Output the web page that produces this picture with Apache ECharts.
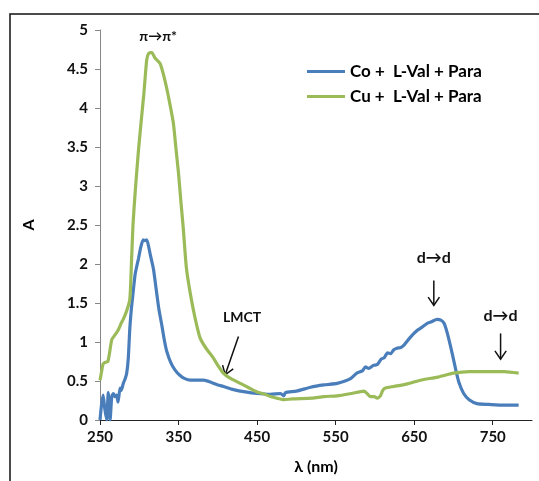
<!DOCTYPE html>
<html>
<head>
<meta charset="utf-8">
<script src="https://cdn.jsdelivr.net/npm/echarts@6/dist/echarts.min.js"></script>
<style>
  html, body { margin: 0; padding: 0; background: #fff; }
  #chart { width: 539px; height: 481px; }
</style>
</head>
<body>
<div id="chart"></div>
<script>
// Co + L-Val + Para
var coWavelength = [250, 252, 254, 256, 258.5, 260.5, 262.8, 265, 267, 269, 271, 273, 275.5, 277, 279.7, 282, 284, 286, 288, 290,
  292, 294.6, 297, 299, 302, 305, 307, 309.5, 312, 314, 318, 322, 325, 328.6, 332, 335, 340, 345.6, 352, 358,
  365, 371, 382, 392, 400, 407, 420, 435, 450, 467, 480, 484, 486, 500, 518, 535, 552, 562, 569, 577,
  584, 588, 592, 598, 603, 608, 612, 616, 620, 624, 628, 633, 637, 645, 654, 660, 666.6, 672, 679, 684,
  688, 692, 696.4, 700, 703, 707, 713, 720, 730, 745, 764, 783];
var coAbsorbance = [0.0, 0.2, 0.32, 0.15, 0.0, 0.35, 0.0, 0.3, 0.34, 0.3, 0.32, 0.23, 0.41, 0.38, 0.47, 0.53, 0.6, 0.79, 1.18, 1.43,
  1.62, 1.86, 1.98, 2.07, 2.22, 2.31, 2.30, 2.31, 2.22, 2.12, 1.94, 1.64, 1.42, 1.22, 1.02, 0.88, 0.74, 0.64, 0.57, 0.53,
  0.51, 0.51, 0.51, 0.48, 0.45, 0.43, 0.39, 0.36, 0.34, 0.33, 0.34, 0.31, 0.35, 0.37, 0.42, 0.45, 0.47, 0.50, 0.53, 0.60,
  0.63, 0.68, 0.66, 0.70, 0.71, 0.78, 0.80, 0.86, 0.85, 0.90, 0.92, 0.93, 0.96, 1.06, 1.15, 1.19, 1.24, 1.26, 1.29, 1.28,
  1.24, 1.12, 0.94, 0.78, 0.64, 0.48, 0.34, 0.26, 0.21, 0.20, 0.19, 0.19];

// Cu + L-Val + Para
var cuWavelength = [250, 252, 254, 257, 260, 262, 265, 269, 273, 277, 280, 284, 288, 290, 292, 295, 299, 303, 306, 309.5,
  312, 316, 320, 326.5, 331, 335, 339, 343.5, 347, 350, 353, 356, 360, 365, 371, 377.5, 385, 394, 400, 407,
  415, 428.6, 440, 450, 460, 467, 475, 484, 495, 520, 535, 552, 570, 586, 590, 594, 599, 603, 607, 610,
  613.5, 624, 640, 658, 680, 700, 720, 743, 765, 783];
var cuAbsorbance = [0.51, 0.62, 0.72, 0.74, 0.75, 0.85, 1.03, 1.09, 1.15, 1.24, 1.30, 1.40, 1.55, 2.0, 2.5, 2.95, 3.46, 3.89, 4.2, 4.62,
  4.70, 4.71, 4.64, 4.57, 4.42, 4.25, 4.05, 3.80, 3.45, 3.16, 2.8, 2.46, 1.95, 1.62, 1.31, 1.05, 0.92, 0.80, 0.70, 0.60,
  0.54, 0.47, 0.41, 0.36, 0.33, 0.30, 0.28, 0.26, 0.27, 0.28, 0.30, 0.31, 0.34, 0.37, 0.34, 0.30, 0.30, 0.28, 0.31, 0.38,
  0.41, 0.43, 0.46, 0.51, 0.55, 0.60, 0.62, 0.62, 0.62, 0.60];

var xTicks = [250, 350, 450, 550, 650, 750];

// annotation texts: [text, wavelength, absorbance, font size]
var labels = [
  ['π→π*', 324, 4.92, 14],
  ['LMCT', 431, 1.31, 14],
  ['d→d', 675, 2.08, 16],
  ['d→d', 760, 1.33, 16]
];
// arrows: [fromX, fromY, toX, toY] in data units
var arrows = [
  [426.3, 1.07, 409.4, 0.58],
  [675, 1.79, 675, 1.47],
  [760, 1.11, 760, 0.78]
];

function zip(xs, ys) {
  var res = [];
  for (var i = 0; i < xs.length; i++) res.push([xs[i], ys[i]]);
  return res;
}

var FONT = 'Lato';
var chart = echarts.init(document.getElementById('chart'), null, { renderer: 'canvas' });

var option = {
  animation: false,
  grid: { left: 100, top: 30, right: 7, bottom: 61, containLabel: false },
  legend: {
    orient: 'vertical',
    left: 302,
    top: 58,
    icon: 'rect',
    itemWidth: 38,
    itemHeight: 3,
    itemGap: 8,
    textStyle: { fontFamily: FONT, fontWeight: 'bold', fontSize: 17, color: '#000', padding: [0, 0, 0, 0] },
    data: ['Co +  L-Val + Para', 'Cu +  L-Val + Para']
  },
  xAxis: {
    type: 'value',
    min: 250,
    max: 800,
    interval: 100,
    name: 'λ (nm)',
    nameLocation: 'middle',
    nameGap: 39,
    nameTextStyle: { fontFamily: FONT, fontWeight: 'bold', fontSize: 16, color: '#000' },
    axisLine: { lineStyle: { color: '#222', width: 1 } },
    axisTick: { show: true, length: 5, inside: false, lineStyle: { color: '#222' }, customValues: xTicks },
    axisLabel: { fontFamily: FONT, fontWeight: 'bold', fontSize: 15, color: '#111', margin: 10, customValues: xTicks },
    splitLine: { show: false }
  },
  yAxis: {
    type: 'value',
    min: 0,
    max: 5,
    interval: 0.5,
    name: 'A',
    nameLocation: 'middle',
    nameGap: 63,
    nameRotate: 90,
    nameTextStyle: { fontFamily: FONT, fontWeight: 'bold', fontSize: 16, color: '#000' },
    axisLine: { show: true, lineStyle: { color: '#888', width: 1 } },
    axisTick: { show: true, length: 5, lineStyle: { color: '#888' } },
    axisLabel: { fontFamily: FONT, fontWeight: 'bold', fontSize: 15, color: '#111', margin: 12 },
    splitLine: { show: false }
  },
  series: [
    {
      name: 'Co +  L-Val + Para',
      type: 'line',
      symbol: 'none',
      smooth: 0.2,
      lineStyle: { width: 3.2, color: '#4a7ebb' },
      itemStyle: { color: '#4a7ebb' },
      data: zip(coWavelength, coAbsorbance)
    },
    {
      name: 'Cu +  L-Val + Para',
      type: 'line',
      symbol: 'none',
      smooth: 0.2,
      lineStyle: { width: 3.2, color: '#9bbb59' },
      itemStyle: { color: '#9bbb59' },
      data: zip(cuWavelength, cuAbsorbance)
    }
  ]
};
chart.setOption(option);

// frame, annotation texts and arrows, placed through the axes
var graphics = [{
  type: 'rect',
  shape: { x: 10, y: 14, width: 700, height: 700 },
  style: { fill: 'none', stroke: '#111', lineWidth: 1.5 },
  silent: true
}];
labels.forEach(function (l) {
  var p = chart.convertToPixel({ gridIndex: 0 }, [l[1], l[2]]);
  graphics.push({
    type: 'text',
    x: p[0], y: p[1],
    style: {
      text: l[0], fill: '#111', font: 'bold ' + l[3] + 'px ' + FONT,
      textAlign: 'center', textVerticalAlign: 'middle'
    }
  });
});
arrows.forEach(function (a) {
  var p0 = chart.convertToPixel({ gridIndex: 0 }, [a[0], a[1]]);
  var p1 = chart.convertToPixel({ gridIndex: 0 }, [a[2], a[3]]);
  var ang = Math.atan2(p1[1] - p0[1], p1[0] - p0[0]);
  var hl = 10, spread = 0.6;
  var h1 = [p1[0] - hl * Math.cos(ang - spread), p1[1] - hl * Math.sin(ang - spread)];
  var h2 = [p1[0] - hl * Math.cos(ang + spread), p1[1] - hl * Math.sin(ang + spread)];
  graphics.push({
    type: 'line', shape: { x1: p0[0], y1: p0[1], x2: p1[0], y2: p1[1] },
    style: { stroke: '#111', lineWidth: 1.5 }
  });
  graphics.push({
    type: 'polyline', shape: { points: [h1, p1, h2] },
    style: { stroke: '#111', lineWidth: 1.5, fill: 'none' }
  });
});
chart.setOption({ graphic: graphics });
</script>
</body>
</html>
